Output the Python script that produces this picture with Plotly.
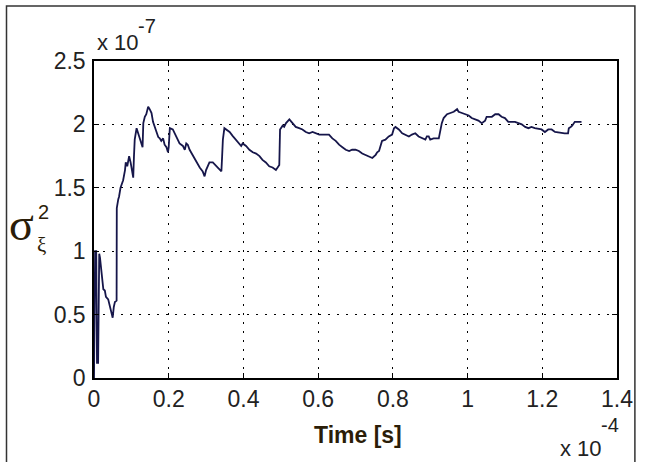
import plotly.graph_objects as go

# time in units of 1e-4 s, variance in units of 1e-7
time_e4 = [0, 0.003, 0.006, 0.008, 0.011, 0.012, 0.014, 0.016, 0.0205, 0.025, 0.029, 0.032, 0.038, 0.043,
           0.047, 0.050, 0.053, 0.056, 0.0605, 0.061, 0.065, 0.067, 0.071, 0.074, 0.078, 0.083, 0.085,
           0.089, 0.094, 0.098, 0.100, 0.105, 0.107, 0.109, 0.114, 0.118, 0.123, 0.127, 0.130, 0.132,
           0.136, 0.140, 0.145, 0.149, 0.154, 0.158, 0.163, 0.167, 0.172, 0.176, 0.180, 0.185, 0.189,
           0.194, 0.198, 0.200, 0.203, 0.211, 0.220, 0.229, 0.238, 0.243, 0.247, 0.251, 0.256, 0.265,
           0.274, 0.283, 0.291, 0.296, 0.300, 0.305, 0.309, 0.318, 0.327, 0.336, 0.341, 0.343, 0.345,
           0.349, 0.354, 0.363, 0.371, 0.380, 0.389, 0.394, 0.398, 0.407, 0.416, 0.425, 0.434, 0.443,
           0.451, 0.460, 0.469, 0.478, 0.487, 0.491, 0.496, 0.498, 0.505, 0.509, 0.514, 0.523, 0.531,
           0.540, 0.549, 0.558, 0.567, 0.576, 0.585, 0.594, 0.603, 0.629, 0.638, 0.647, 0.656, 0.665,
           0.674, 0.683, 0.691, 0.700, 0.709, 0.718, 0.727, 0.736, 0.745, 0.754, 0.758, 0.763, 0.767,
           0.771, 0.780, 0.789, 0.798, 0.803, 0.807, 0.816, 0.825, 0.834, 0.843, 0.851, 0.860, 0.869,
           0.878, 0.887, 0.891, 0.896, 0.900, 0.909, 0.923, 0.927, 0.931, 0.936, 0.945, 0.954, 0.963,
           0.972, 0.976, 0.985, 0.994, 1.003, 1.011, 1.020, 1.029, 1.038, 1.047, 1.051, 1.065, 1.074,
           1.083, 1.091, 1.100, 1.109, 1.127, 1.136, 1.145, 1.154, 1.163, 1.171, 1.180, 1.198, 1.207,
           1.216, 1.225, 1.234, 1.251, 1.260, 1.269, 1.271, 1.276, 1.280, 1.287, 1.305]
variance_e7 = [0, 1.0, 1.0, 0.12, 0.12, 0.98, 0.98, 0.95, 0.83, 0.70, 0.69, 0.64, 0.62, 0.56,
               0.51, 0.475, 0.56, 0.60, 0.61, 1.34, 1.41, 1.43, 1.50, 1.52, 1.56, 1.64, 1.70,
               1.67, 1.75, 1.70, 1.66, 1.58, 1.75, 1.88, 1.97, 1.93, 1.90, 1.86, 1.82, 2.01,
               2.06, 2.08, 2.14, 2.12, 2.09, 2.02, 1.98, 1.94, 1.90, 1.89, 1.87, 1.89, 1.84,
               1.82, 1.78, 1.82, 1.97, 1.96, 1.91, 1.85, 1.83, 1.80, 1.85, 1.84, 1.80, 1.75,
               1.71, 1.66, 1.63, 1.59, 1.64, 1.67, 1.70, 1.70, 1.67, 1.64, 1.63, 1.75, 1.88,
               1.97, 1.96, 1.94, 1.91, 1.88, 1.85, 1.83, 1.85, 1.83, 1.80, 1.78, 1.77, 1.75,
               1.72, 1.70, 1.67, 1.66, 1.64, 1.66, 1.68, 1.96, 1.99, 1.98, 2.01, 2.04, 2.01,
               1.98, 1.97, 1.96, 1.94, 1.93, 1.94, 1.93, 1.92, 1.92, 1.89, 1.87, 1.84, 1.82,
               1.80, 1.79, 1.80, 1.80, 1.79, 1.77, 1.76, 1.75, 1.735, 1.76, 1.78, 1.79, 1.84,
               1.87, 1.88, 1.905, 1.92, 1.97, 1.98, 1.96, 1.93, 1.92, 1.905, 1.92, 1.93, 1.905,
               1.89, 1.88, 1.905, 1.905, 1.88, 1.89, 1.89, 1.97, 2.01, 2.05, 2.08, 2.09, 2.10,
               2.12, 2.10, 2.09, 2.08, 2.07, 2.05, 2.04, 2.03, 2.01, 2.03, 2.06, 2.06, 2.08,
               2.08, 2.06, 2.05, 2.02, 2.02, 2.01, 2.00, 1.98, 1.97, 1.98, 1.97, 1.96, 1.94,
               1.96, 1.96, 1.94, 1.93, 1.93, 1.93, 1.97, 1.98, 1.99, 2.02, 2.02]

x_ticks = [0, 0.2, 0.4, 0.6, 0.8, 1.0, 1.2, 1.4]
x_tick_labels = ["0", "0.2", "0.4", "0.6", "0.8", "1", "1.2", "1.4"]
y_ticks = [0, 0.5, 1.0, 1.5, 2.0, 2.5]
y_tick_labels = ["0", "0.5", "1", "1.5", "2", "2.5"]

SANS = "Liberation Sans Narrow, Arial Narrow, Liberation Sans, sans-serif"
TICKFONT = dict(family=SANS, size=23, color="#222222")

fig = go.Figure()
fig.add_trace(go.Scatter(x=time_e4, y=variance_e7, mode="lines",
                         line=dict(color="#16164a", width=1.8), showlegend=False))

axis_common = dict(showline=True, linecolor="black", linewidth=1.5, mirror="ticks",
                   ticks="inside", ticklen=5, tickcolor="black", tickwidth=1,
                   showgrid=True, gridcolor="black", gridwidth=1.3, griddash="2px,7px",
                   zeroline=False, tickfont=TICKFONT)

fig.update_xaxes(range=[0, 1.4], tickvals=x_ticks, ticktext=x_tick_labels, **axis_common)
fig.update_yaxes(range=[0, 2.5], tickvals=y_ticks, ticktext=y_tick_labels,
                 ticklabelstandoff=2, **axis_common)

W, H = 645, 462
L, R, T, B = 94, 25, 61, 84
pw, ph = W - L - R, H - T - B


def px(xp):
    return (xp - L) / pw


def py(yp):
    return (H - B - yp) / ph


annots = [
    # multiplier labels
    dict(x=px(95), y=py(57), text="x 10", xanchor="left", yanchor="bottom",
         font=dict(family=SANS, size=22, color="#222222")),
    dict(x=px(136), y=py(39), text="-7", xanchor="left", yanchor="bottom",
         font=dict(family=SANS, size=20, color="#222222")),
    dict(x=px(561), y=py(463), text="x 10", xanchor="left", yanchor="bottom",
         font=dict(family=SANS, size=22, color="#222222")),
    dict(x=px(602), y=py(438), text="-4", xanchor="left", yanchor="bottom",
         font=dict(family=SANS, size=20, color="#222222")),
    # x axis title
    dict(x=px(360), y=py(435), text="<b>Time [s]</b>", xanchor="center", yanchor="middle",
         font=dict(family=SANS, size=23, color="#2b1d08")),
    # y axis title: sigma with super/subscripts
    dict(x=px(21), y=py(224), text="σ", xanchor="center", yanchor="middle",
         font=dict(family="Liberation Serif, Times New Roman, serif", size=46, color="#2b1d08")),
    dict(x=px(43), y=py(212), text="2", xanchor="center", yanchor="middle",
         font=dict(family="Liberation Sans, Arial, sans-serif", size=20, color="#2b1d08")),
    dict(x=px(41), y=py(245), text="ξ", xanchor="center", yanchor="middle",
         font=dict(family="Liberation Serif, Times New Roman, serif", size=21, color="#2b1d08")),
]
for a in annots:
    a.update(xref="paper", yref="paper", showarrow=False)

fig.update_layout(
    width=W, height=H,
    margin=dict(l=L, r=R, t=T, b=B),
    paper_bgcolor="white", plot_bgcolor="white",
    annotations=annots,
    shapes=[dict(type="rect", xref="paper", yref="paper",
                 x0=px(6), x1=px(638), y0=py(470), y1=py(6),
                 line=dict(color="#333333", width=1.5), layer="below")],
)

fig.write_html("out.html")
